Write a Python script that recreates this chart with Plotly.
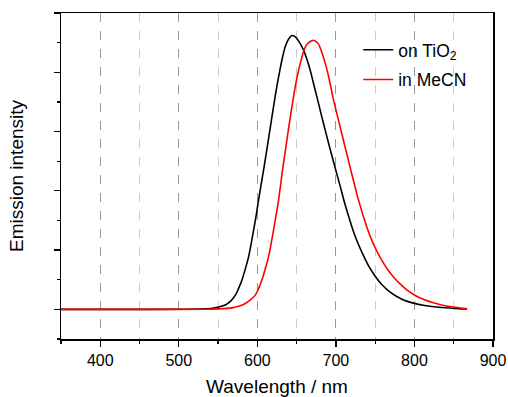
import plotly.graph_objects as go

# Emission spectra (wavelength in nm, intensity in a.u.)
wl_tio2 = [350, 400, 450, 500, 527, 540, 549, 559, 566, 572, 576, 580.4, 584.5, 588.8, 592,
           595.2, 598.5, 601.5, 604.7, 607.9, 613, 618.6, 624, 628, 632, 636, 640, 644, 648,
           652.4, 658.8, 663, 667.3, 671.5, 675.8, 680, 684.2, 688.5, 692.7, 699, 705, 711,
           717, 723, 729, 735, 742, 750, 759, 769, 784, 798.6, 813, 828, 848, 867]
int_tio2 = [0.0, 0.0, 0.0, 0.005, 0.01, 0.03, 0.07, 0.15, 0.28, 0.48, 0.70, 0.99, 1.35, 1.77, 2.2,
            2.67, 3.17, 3.69, 4.2, 4.70, 5.55, 6.5, 7.4, 7.98, 8.5, 8.9, 9.13, 9.24, 9.2,
            9.06, 8.75, 8.45, 8.07, 7.62, 7.17, 6.72, 6.27, 5.83, 5.40, 4.78, 4.2, 3.6,
            3.07, 2.58, 2.17, 1.82, 1.45, 1.12, 0.82, 0.58, 0.34, 0.21, 0.13, 0.08, 0.04, 0.01]

wl_mecn = [350, 400, 450, 500, 530, 549, 567.7, 577, 584.6, 591, 597.3, 601.5, 605.8, 610, 614.2,
           617.4, 620.6, 623.8, 627, 629.5, 632, 635, 637.6, 640, 642.7, 645.5, 648.2, 651.5,
           654.6, 658.8, 662, 666, 669, 671.5, 674, 677.8, 681, 684.2, 687.5, 690.5, 693.7,
           697, 701, 705, 709.6, 714, 718, 722, 726, 730, 735, 740, 745, 750, 757, 765, 773,
           782, 791, 801, 812, 824, 836, 850, 867]
int_mecn = [0.0, 0.0, 0.0, 0.0, 0.005, 0.015, 0.05, 0.11, 0.20, 0.32, 0.48, 0.70, 0.99, 1.36, 1.77,
            2.2, 2.67, 3.17, 3.69, 4.18, 4.70, 5.24, 5.71, 6.15, 6.61, 7.08, 7.51, 7.95,
            8.30, 8.70, 8.9, 9.02, 9.06, 9.08, 9.05, 8.95, 8.75, 8.50, 8.2, 7.88, 7.48,
            7.06, 6.63, 6.2, 5.70, 5.23, 4.8, 4.38, 3.96, 3.58, 3.13, 2.73, 2.38, 2.08, 1.72, 1.38, 1.1,
            0.85, 0.64, 0.47, 0.33, 0.22, 0.14, 0.08, 0.02]

names = ["on TiO<sub>2</sub>", "in MeCN"]
colors = ["#000000", "#ff0000"]

FONT = "Liberation Sans, Arial, sans-serif"

fig = go.Figure()
fig.add_trace(go.Scatter(x=wl_tio2, y=int_tio2, mode="lines", name=names[0], legendgroup="a",
                         line=dict(color=colors[0], width=1.6, shape="spline", smoothing=1.0)))
fig.add_trace(go.Scatter(x=wl_mecn, y=int_mecn, mode="lines", name=names[1], legendgroup="b",
                         line=dict(color=colors[1], width=1.6, shape="spline", smoothing=1.0)))

fig.update_layout(
    width=508, height=397,
    margin=dict(l=61, r=15, t=13, b=58, autoexpand=False),
    paper_bgcolor="white", plot_bgcolor="white",
    font=dict(family=FONT, size=16, color="black"),
    showlegend=True,
    hovermode=False,
    legend=dict(x=0.688, y=0.942, xanchor="left", yanchor="top",
                bgcolor="rgba(0,0,0,0)", font=dict(size=17.5), tracegroupgap=4,
                itemwidth=30),
)

fig.update_xaxes(
    range=[350, 900], showline=True, linecolor="black", linewidth=1.5, mirror=True,
    ticks="outside", ticklen=6, tickwidth=1.2, tickcolor="black",
    tick0=400, dtick=100, tickfont=dict(size=16), ticklabelstandoff=0,
    showgrid=True, gridcolor="#999999", griddash="dash", gridwidth=1,
    minor=dict(ticks="outside", ticklen=3.5, tickwidth=1.2, tickcolor="black",
               dtick=50, tick0=350, showgrid=True, gridcolor="#cccccc", griddash="dash"),
    zeroline=False, automargin=False,
    title=dict(text="Wavelength / nm", font=dict(size=19), standoff=13),
)
fig.update_yaxes(
    range=[-1, 10], showline=True, linecolor="black", linewidth=1.5, mirror=True,
    ticks="outside", ticklen=6, tickwidth=1.2, tickcolor="black",
    tick0=0, dtick=2, showticklabels=False,
    showgrid=False, zeroline=False, automargin=False,
    minor=dict(ticks="outside", ticklen=3, tickwidth=1.2, tickcolor="black", dtick=1, tick0=0,
               showgrid=False),
    title=dict(text="Emission intensity", font=dict(size=19), standoff=25),
)

# remove the default 8px page margin so the 508x397 figure fills the window exactly
fig.write_html(
    "out.html",
    config={"displayModeBar": False, "staticPlot": True},
    post_script="document.body.style.margin='0';document.body.style.overflow='hidden';",
)
